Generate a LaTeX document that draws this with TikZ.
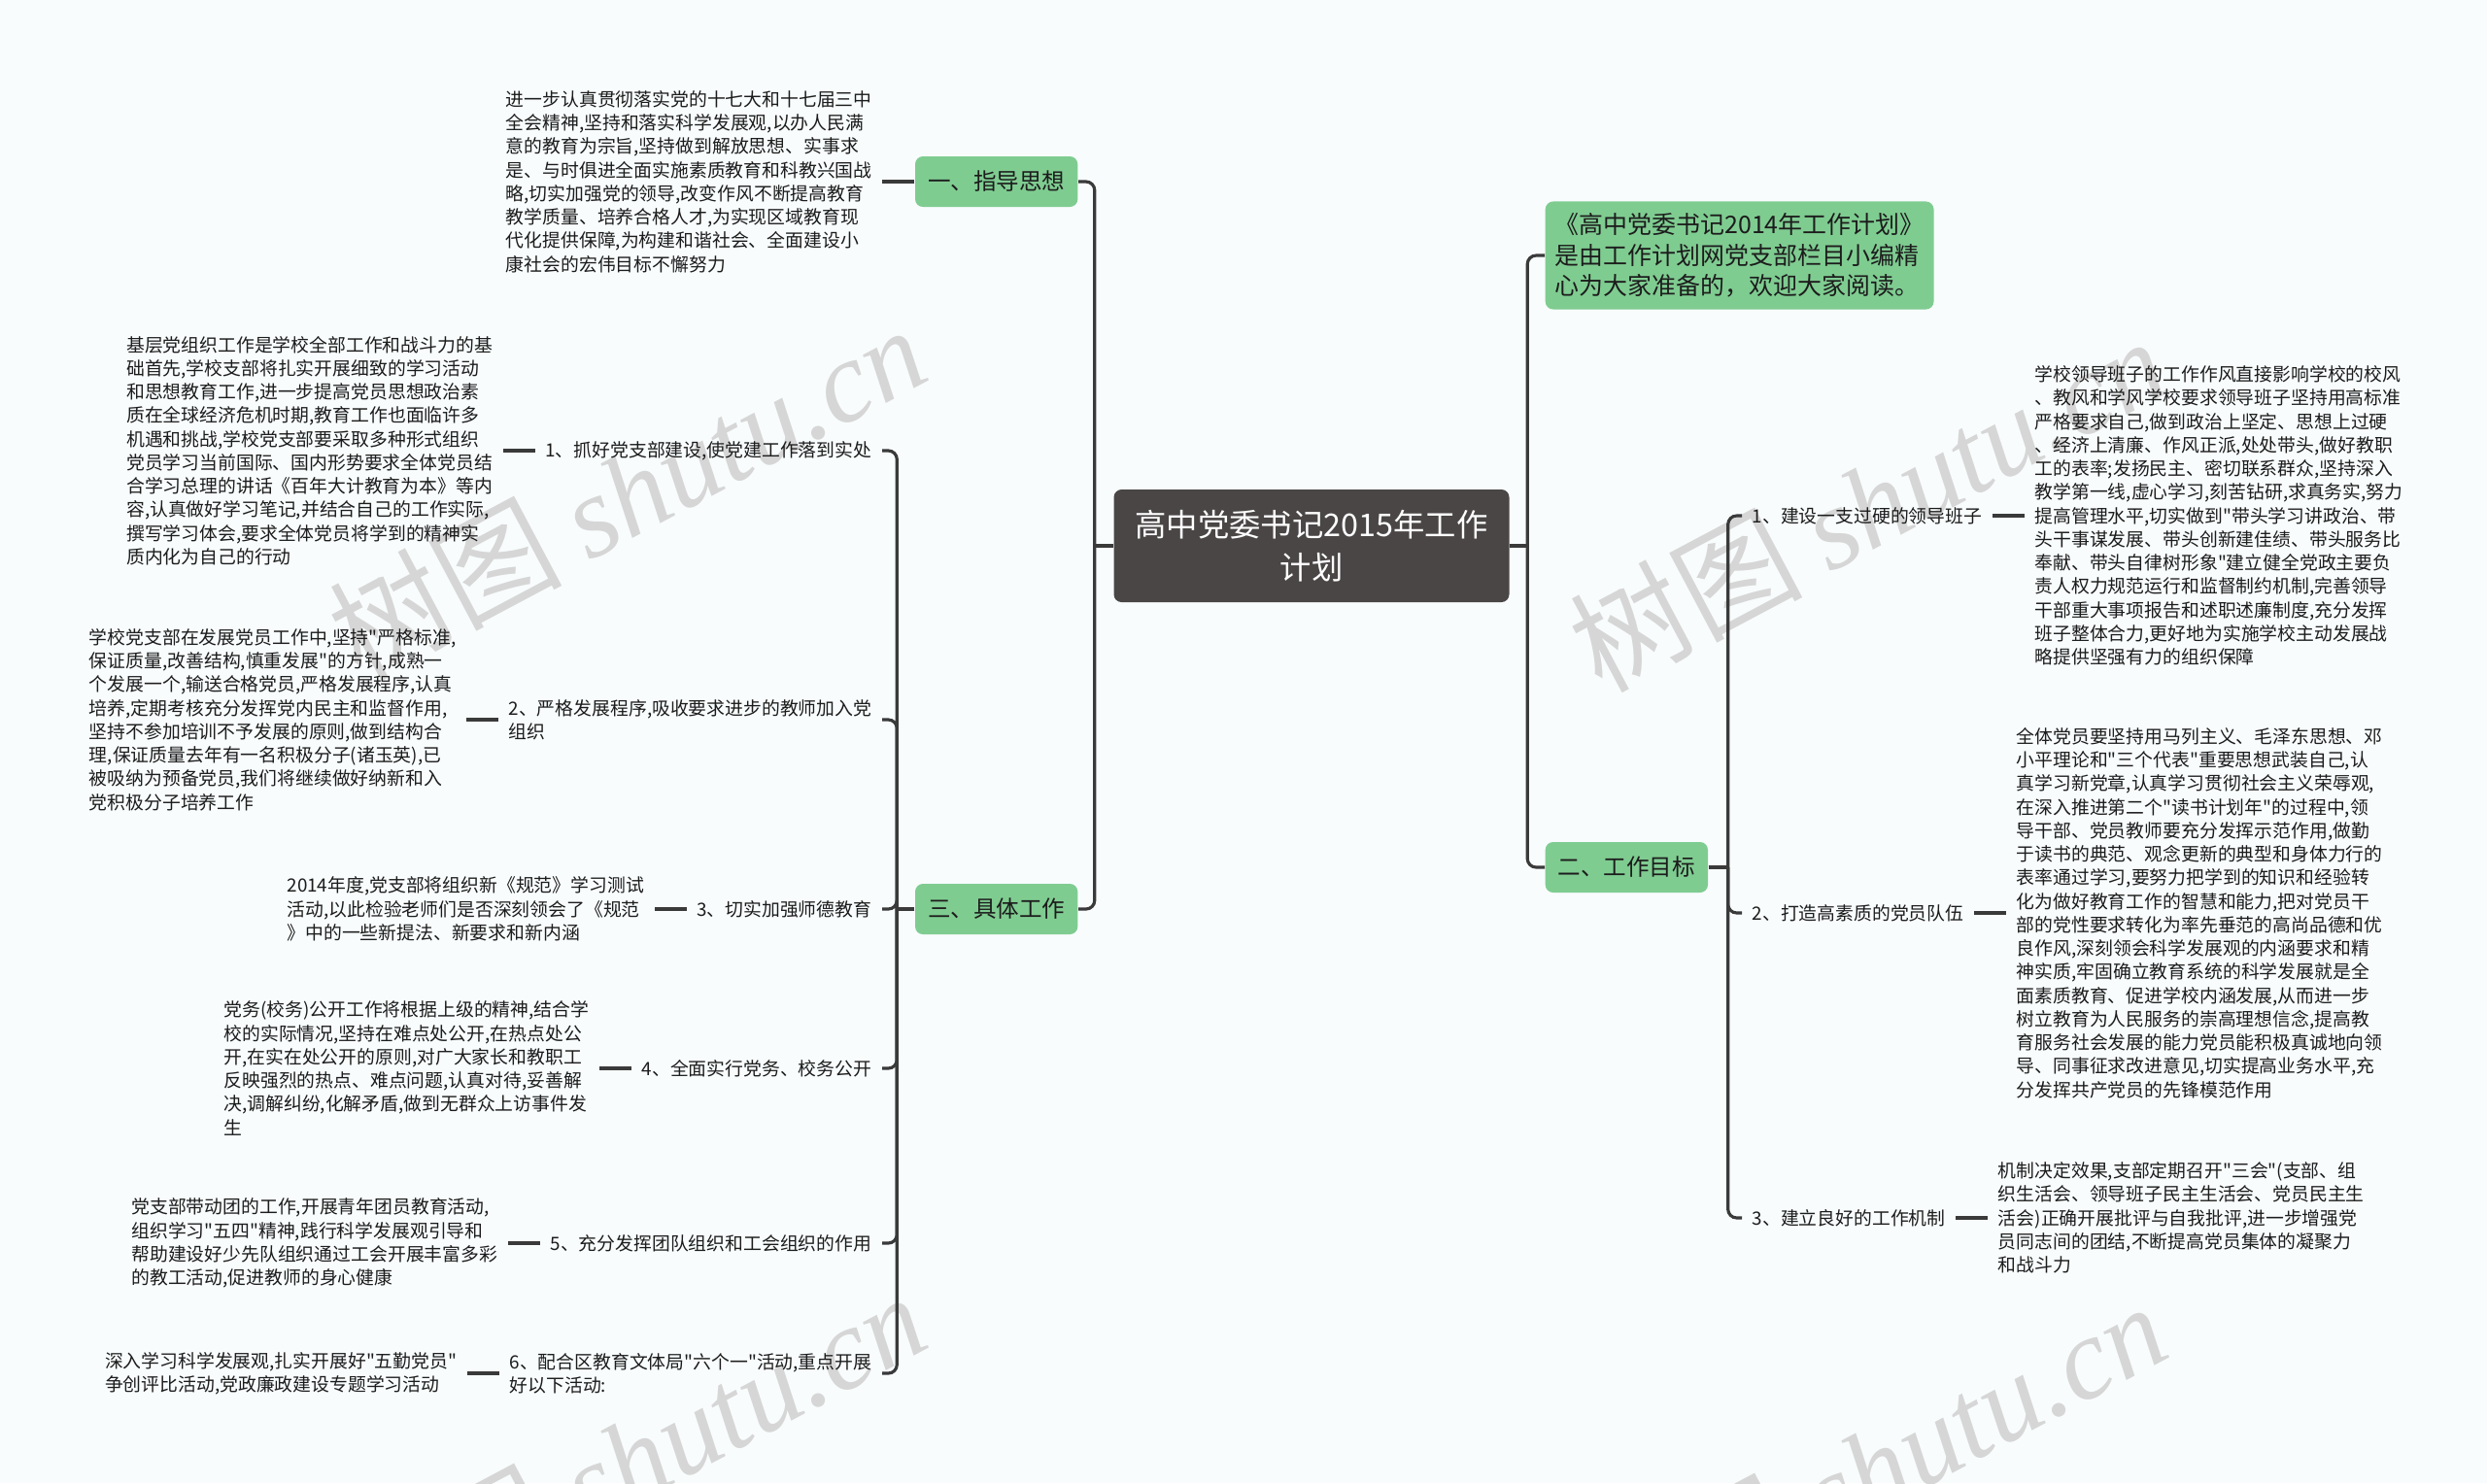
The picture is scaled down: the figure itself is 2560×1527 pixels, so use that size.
\documentclass[tikz,border=0pt]{standalone}
\usepackage{fontspec}
\setmainfont{Noto Sans CJK SC}[Ligatures=TeXOff]
\newfontfamily\wmfont{Liberation Serif}
\usepackage{tikz}
\usetikzlibrary{positioning}

\definecolor{bgcol}{RGB}{248,252,253}
\definecolor{topicgreen}{RGB}{127,204,145}
\definecolor{rootgray}{RGB}{74,70,70}
\definecolor{linecol}{RGB}{58,58,58}
\definecolor{txtcol}{RGB}{28,28,28}
\definecolor{wmgray}{RGB}{214,214,214}

\begin{document}
\begin{tikzpicture}[x=0.1mm, y=-0.1mm, node distance=3.3mm,
  link/.style={draw=linecol, line width=0.9pt, rounded corners=0.9mm},
  topic/.style={fill=topicgreen, rounded corners=0.8mm, text=txtcol,
    font=\fontsize{6.7pt}{8pt}\selectfont, inner xsep=1.3mm, minimum height=5.2mm},
  item/.style={text=txtcol, font=\fontsize{5.36pt}{6.9pt}\selectfont,
    align=left, inner xsep=1mm, inner ysep=0.5mm},
  leaf/.style={item},
  rootbox/.style={fill=rootgray, text=white, rounded corners=0.8mm, align=center,
    minimum width=40.7mm, minimum height=11.6mm, font=\fontsize{9.2pt}{12.4pt}\selectfont},
  wm/.style={text=wmgray, rotate=28, font=\fontsize{34pt}{34pt}\selectfont}]

  \useasboundingbox (0,0) rectangle (2560,1527);
  \clip (0,0) rectangle (2560,1527);
  \fill[bgcol] (0,0) rectangle (2560,1527);

  % watermarks
  \node[wm] (wm1) at (645,506) {树图 {\wmfont\itshape shutu.cn}};
  \node[wm] (wm2) at (1922,518) {树图 {\wmfont\itshape shutu.cn}};
  \node[wm] (wm3) at (645,1502) {树图 {\wmfont\itshape shutu.cn}};
  \node[wm] (wm4) at (1922,1512) {树图 {\wmfont\itshape shutu.cn}};

  % centre
  \node[rootbox] (root) at (1350,562) {高中党委书记2015年工作\\计划};

  % right side
  \node[topic, anchor=west, align=left, inner xsep=1mm, inner ysep=1.2mm,
    font=\fontsize{7.1pt}{9pt}\selectfont] (intro) at (1590,263)
    {《高中党委书记2014年工作计划》\\是由工作计划网党支部栏目小编精\\心为大家准备的，欢迎大家阅读。};
  \node[topic, anchor=west] (er) at (1590,893) {二、工作目标};

  \node[item, anchor=west] (R1) at (1793,531) {1、建设一支过硬的领导班子};
  \node[leaf, right=of R1] (R1t) {学校领导班子的工作作风直接影响学校的校风\\
    、教风和学风学校要求领导班子坚持用高标准\\
    严格要求自己,做到政治上坚定、思想上过硬\\
    、经济上清廉、作风正派,处处带头,做好教职\\
    工的表率;发扬民主、密切联系群众,坚持深入\\
    教学第一线,虚心学习,刻苦钻研,求真务实,努力\\
    提高管理水平,切实做到"带头学习讲政治、带\\
    头干事谋发展、带头创新建佳绩、带头服务比\\
    奉献、带头自律树形象"建立健全党政主要负\\
    责人权力规范运行和监督制约机制,完善领导\\
    干部重大事项报告和述职述廉制度,充分发挥\\
    班子整体合力,更好地为实施学校主动发展战\\
    略提供坚强有力的组织保障};

  \node[item, anchor=west] (R2) at (1793,940) {2、打造高素质的党员队伍};
  \node[leaf, right=of R2] (R2t) {全体党员要坚持用马列主义、毛泽东思想、邓\\
    小平理论和"三个代表"重要思想武装自己,认\\
    真学习新党章,认真学习贯彻社会主义荣辱观,\\
    在深入推进第二个"读书计划年"的过程中,领\\
    导干部、党员教师要充分发挥示范作用,做勤\\
    于读书的典范、观念更新的典型和身体力行的\\
    表率通过学习,要努力把学到的知识和经验转\\
    化为做好教育工作的智慧和能力,把对党员干\\
    部的党性要求转化为率先垂范的高尚品德和优\\
    良作风,深刻领会科学发展观的内涵要求和精\\
    神实质,牢固确立教育系统的科学发展就是全\\
    面素质教育、促进学校内涵发展,从而进一步\\
    树立教育为人民服务的崇高理想信念,提高教\\
    育服务社会发展的能力党员能积极真诚地向领\\
    导、同事征求改进意见,切实提高业务水平,充\\
    分发挥共产党员的先锋模范作用};

  \node[item, anchor=west] (R3) at (1793,1254) {3、建立良好的工作机制};
  \node[leaf, right=of R3] (R3t) {机制决定效果,支部定期召开"三会"(支部、组\\
    织生活会、领导班子民主生活会、党员民主生\\
    活会)正确开展批评与自我批评,进一步增强党\\
    员同志间的团结,不断提高党员集体的凝聚力\\
    和战斗力};

  % left side
  \node[topic, anchor=east] (yi) at (1110,187) {一、指导思想};
  \node[leaf, left=of yi] (yit) {进一步认真贯彻落实党的十七大和十七届三中\\
    全会精神,坚持和落实科学发展观,以办人民满\\
    意的教育为宗旨,坚持做到解放思想、实事求\\
    是、与时俱进全面实施素质教育和科教兴国战\\
    略,切实加强党的领导,改变作风不断提高教育\\
    教学质量、培养合格人才,为实现区域教育现\\
    代化提供保障,为构建和谐社会、全面建设小\\
    康社会的宏伟目标不懈努力};

  \node[topic, anchor=east] (san) at (1110,936) {三、具体工作};

  \node[item, anchor=east] (L1) at (908,464) {1、抓好党支部建设,使党建工作落到实处};
  \node[leaf, left=of L1] (L1t) {基层党组织工作是学校全部工作和战斗力的基\\
    础首先,学校支部将扎实开展细致的学习活动\\
    和思想教育工作,进一步提高党员思想政治素\\
    质在全球经济危机时期,教育工作也面临许多\\
    机遇和挑战,学校党支部要采取多种形式组织\\
    党员学习当前国际、国内形势要求全体党员结\\
    合学习总理的讲话《百年大计教育为本》等内\\
    容,认真做好学习笔记,并结合自己的工作实际,\\
    撰写学习体会,要求全体党员将学到的精神实\\
    质内化为自己的行动};

  \node[item, anchor=east] (L2) at (908,741) {2、严格发展程序,吸收要求进步的教师加入党\\组织};
  \node[leaf, left=of L2] (L2t) {学校党支部在发展党员工作中,坚持"严格标准,\\
    保证质量,改善结构,慎重发展"的方针,成熟一\\
    个发展一个,输送合格党员,严格发展程序,认真\\
    培养,定期考核充分发挥党内民主和监督作用,\\
    坚持不参加培训不予发展的原则,做到结构合\\
    理,保证质量去年有一名积极分子(诸玉英),已\\
    被吸纳为预备党员,我们将继续做好纳新和入\\
    党积极分子培养工作};

  \node[item, anchor=east] (L3) at (908,936) {3、切实加强师德教育};
  \node[leaf, left=of L3] (L3t) {2014年度,党支部将组织新《规范》学习测试\\
    活动,以此检验老师们是否深刻领会了《规范\\
    》中的一些新提法、新要求和新内涵};

  \node[item, anchor=east] (L4) at (908,1100) {4、全面实行党务、校务公开};
  \node[leaf, left=of L4] (L4t) {党务(校务)公开工作将根据上级的精神,结合学\\
    校的实际情况,坚持在难点处公开,在热点处公\\
    开,在实在处公开的原则,对广大家长和教职工\\
    反映强烈的热点、难点问题,认真对待,妥善解\\
    决,调解纠纷,化解矛盾,做到无群众上访事件发\\
    生};

  \node[item, anchor=east] (L5) at (908,1280) {5、充分发挥团队组织和工会组织的作用};
  \node[leaf, left=of L5] (L5t) {党支部带动团的工作,开展青年团员教育活动,\\
    组织学习"五四"精神,践行科学发展观引导和\\
    帮助建设好少先队组织通过工会开展丰富多彩\\
    的教工活动,促进教师的身心健康};

  \node[item, anchor=east] (L6) at (908,1414) {6、配合区教育文体局"六个一"活动,重点开展\\好以下活动:};
  \node[leaf, left=of L6] (L6t) {深入学习科学发展观,扎实开展好"五勤党员"\\
    争创评比活动,党政廉政建设专题学习活动};

  % connectors
  \draw[link] (root.west) -- ++(-19,0) coordinate (jl);
  \draw[link] (jl) |- (yi.east);
  \draw[link] (jl) |- (san.east);
  \draw[link] (root.east) -- ++(18,0) coordinate (jr);
  \draw[link] (jr) |- (intro.west);
  \draw[link] (jr) |- (er.west);

  \draw[link] (er.east) -- ++(20,0) coordinate (je);
  \foreach \n in {R1,R2,R3} {
    \draw[link] (je) |- (\n.west);
    \draw[link] (\n.east) -- (\n t.west);
  }

  \draw[link] (san.west) -- ++(-18,0) coordinate (js);
  \foreach \n in {L1,L2,L3,L4,L5,L6} {
    \draw[link] (js) |- (\n.east);
    \draw[link] (\n.west) -- (\n t.east);
  }
  \draw[link] (yi.west) -- (yit.east);
\end{tikzpicture}
\end{document}
